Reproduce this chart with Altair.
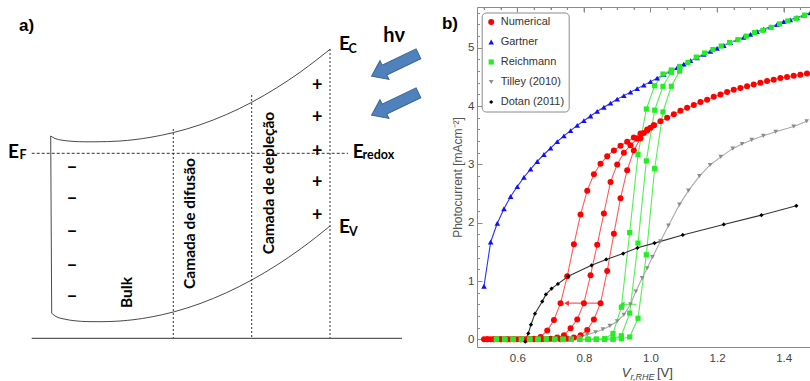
import altair as alt
import pandas as pd

# ============ panel a) : band diagram (reference pixel coordinates) ============
band_top_x = [50.7, 55, 62, 72, 85, 95, 120, 150, 173.3, 200, 226.7, 251.7, 276.7, 300, 316.7, 330]
band_top_y = [136, 138.5, 140.2, 141.3, 141.8, 141.8, 141.0, 137.4, 132.6, 124.8, 114.4, 102.3, 87.8, 72.3, 59.8, 49.3]
band_bot_x = [51.7, 56, 64, 75, 88, 100, 120, 150, 173.3, 200, 226.7, 251.7, 276.7, 300, 316.7, 330]
band_bot_y = [313.3, 316.5, 319, 320.8, 321.6, 321.7, 321.0, 317.2, 312.0, 303.6, 292.6, 280.0, 265.2, 249.3, 236.7, 226]
band_left_x = [50.7, 51.2, 51.7]
band_left_y = [136, 225, 313.3]

layer_x = [173.3, 251.7, 330]
layer_top = [129, 95, 49]
layer_bottom = [338, 338, 338]

fermi_x = [31.7, 348]
fermi_y = [153.3, 153.3]
base_x = [31.7, 402]
base_y = [338.3, 338.3]

minus_x = [72, 72, 72, 72, 72]
minus_y = [166.7, 198.3, 230.7, 265, 296]
plus_x = [317.3, 317.3, 317.3, 317.3, 317.3]
plus_y = [86, 118.3, 151.7, 182.7, 216]

e_x = [8, 339, 339, 352.7]
e_y = [158, 50, 233, 157.5]
sub_text = ["F", "C", "V", "redox"]
sub_x = [19.5, 348.5, 349, 362.5]
sub_y = [159, 53, 236, 159]

region_text = ["Bulk", "Camada de difusão", "Camada de depleção"]
region_x = [127, 190, 268.5]
region_y = [292.5, 223.5, 183]

photon_x = [395, 395]
photon_y = [65, 104]

panel_text = ["a)", "b)"]
panel_x = [26.5, 450]
panel_y = [31, 29]

# ============ panel b) : photocurrent curves ============
gartner_v = [0.50, 0.52, 0.54, 0.56, 0.58, 0.60, 0.62, 0.64, 0.66, 0.68, 0.70, 0.72, 0.74, 0.76, 0.78,
             0.80, 0.82, 0.84, 0.86, 0.88, 0.90, 0.92, 0.94, 0.96, 0.98, 1.00, 1.02, 1.04, 1.06, 1.08,
             1.10, 1.12, 1.14, 1.16, 1.18, 1.20, 1.22, 1.24, 1.26, 1.28, 1.30, 1.32, 1.34, 1.36, 1.38,
             1.40, 1.42, 1.44, 1.46, 1.48, 1.50]
gartner_i = [0.91, 1.67, 1.99, 2.24, 2.45, 2.62, 2.78, 2.92, 3.05, 3.17, 3.28, 3.39, 3.49, 3.58, 3.67,
             3.75, 3.83, 3.91, 3.98, 4.05, 4.12, 4.18, 4.24, 4.30, 4.36, 4.42, 4.48, 4.54, 4.60, 4.66,
             4.72, 4.78, 4.83, 4.89, 4.94, 4.99, 5.04, 5.09, 5.14, 5.18, 5.23, 5.28, 5.32, 5.36, 5.40,
             5.45, 5.48, 5.52, 5.56, 5.60, 5.64]

num1_v = [0.51, 0.53, 0.55, 0.57, 0.59, 0.61, 0.63, 0.65, 0.67, 0.69, 0.71, 0.73, 0.75, 0.77, 0.79,
          0.81, 0.83, 0.85, 0.87, 0.89, 0.91, 0.93, 0.95, 0.97, 0.99, 1.01, 1.03, 1.05, 1.07, 1.09,
          1.11, 1.13, 1.15, 1.17, 1.19, 1.21, 1.23, 1.25, 1.27, 1.29, 1.31, 1.33, 1.35, 1.37, 1.39,
          1.41, 1.43, 1.45, 1.47, 1.49]
num1_i = [0, 0, 0, 0, 0, 0, 0, 0.01, 0.04, 0.15, 0.33, 0.62, 1.08, 1.63, 2.14,
          2.55, 2.83, 3.01, 3.14, 3.24, 3.32, 3.39, 3.46, 3.53, 3.60, 3.67, 3.74, 3.80, 3.86, 3.92,
          3.97, 4.02, 4.07, 4.11, 4.16, 4.20, 4.24, 4.28, 4.31, 4.34, 4.37, 4.40, 4.43, 4.45, 4.48,
          4.50, 4.52, 4.54, 4.56, 4.58]
num2_v = [0.50, 0.52, 0.54, 0.56, 0.58, 0.60, 0.62, 0.64, 0.66, 0.68, 0.70, 0.72, 0.74, 0.76, 0.78,
          0.80, 0.82, 0.84, 0.86, 0.88, 0.90, 0.92, 0.94, 0.96, 0.98, 1.00]
num2_i = [0, 0, 0, 0, 0, 0, 0, 0, 0, 0, 0.01, 0.03, 0.07, 0.19, 0.34,
          0.62, 1.10, 1.62, 2.16, 2.70, 3.00, 3.20, 3.33, 3.44, 3.54, 3.63]
num3_v = [0.51, 0.53, 0.55, 0.57, 0.59, 0.61, 0.63, 0.65, 0.67, 0.69, 0.71, 0.73, 0.75, 0.77, 0.79,
          0.81, 0.83, 0.85, 0.87, 0.89, 0.91, 0.93, 0.95, 0.97, 0.99, 1.01]
num3_i = [0, 0, 0, 0, 0, 0, 0, 0, 0, 0, 0, 0, 0.01, 0.03, 0.07,
          0.16, 0.34, 0.62, 1.17, 1.81, 2.42, 2.90, 3.24, 3.45, 3.58, 3.67]

rei1_v = [0.5375, 0.5625, 0.5875, 0.6125, 0.6375, 0.6625, 0.6875, 0.7125, 0.7375, 0.7625, 0.7875,
          0.8125, 0.8375, 0.8625, 0.8875, 0.9125, 0.9375, 0.9625, 0.9875, 1.0125, 1.0375, 1.0625]
rei1_i = [0, 0, 0, 0, 0, 0, 0, 0, 0, 0, 0,
          0, 0, 0.01, 0.10, 0.55, 1.83, 3.17, 3.95, 4.35, 4.55, 4.62]
rei2_v = [0.5375, 0.5625, 0.5875, 0.6125, 0.6375, 0.6625, 0.6875, 0.7125, 0.7375, 0.7625, 0.7875,
          0.8125, 0.8375, 0.8625, 0.8875, 0.9125, 0.9375, 0.9625, 0.9875, 1.0125, 1.0375, 1.0625, 1.0875]
rei2_i = [0, 0, 0, 0, 0, 0, 0, 0, 0, 0, 0,
          0, 0, 0, 0.01, 0.06, 0.45, 1.65, 3.06, 3.93, 4.34, 4.58, 4.68]
rei3_v = [0.5375, 0.5625, 0.5875, 0.6125, 0.6375, 0.6625, 0.6875, 0.7125, 0.7375, 0.7625, 0.7875,
          0.8125, 0.8375, 0.8625, 0.8875, 0.9125, 0.9375, 0.9625, 0.9875, 1.0125, 1.0375, 1.0625, 1.0875,
          1.1125, 1.1375, 1.1625, 1.1875, 1.2125, 1.2375, 1.2625, 1.2875, 1.3125, 1.3375, 1.3625,
          1.3875, 1.4125, 1.4375, 1.4625, 1.4875]
rei3_i = [0, 0, 0, 0, 0, 0, 0, 0, 0, 0, 0,
          0, 0, 0, 0, 0.01, 0.04, 0.36, 1.45, 2.93, 3.90, 4.34, 4.60,
          4.75, 4.84, 4.91, 4.97, 5.03, 5.09, 5.14, 5.20, 5.26, 5.30, 5.35,
          5.41, 5.46, 5.50, 5.56, 5.60]

tilley_v = [0.76, 0.785, 0.81, 0.835, 0.857, 0.878, 0.90, 0.92, 0.94, 0.956, 0.975, 0.99, 1.006,
            1.03, 1.054, 1.087, 1.114, 1.147, 1.179, 1.211, 1.247, 1.275, 1.304, 1.339, 1.376,
            1.43, 1.469]
tilley_i = [0.01, 0.04, 0.08, 0.12, 0.17, 0.23, 0.31, 0.42, 0.60, 0.82, 1.05, 1.22, 1.41,
            1.68, 1.95, 2.31, 2.55, 2.80, 2.99, 3.13, 3.27, 3.35, 3.42, 3.49, 3.56,
            3.65, 3.74]

dotan_v = [0.624, 0.633, 0.641, 0.653, 0.675, 0.686, 0.703, 0.722, 0.753, 0.823, 0.867, 0.918,
           0.961, 1.012, 1.097, 1.22, 1.333, 1.438]
dotan_i = [-0.04, 0.10, 0.25, 0.44, 0.65, 0.77, 0.87, 0.95, 1.08, 1.27, 1.37, 1.47,
           1.57, 1.65, 1.79, 1.97, 2.13, 2.29]

arrow_red_v = [0.851, 0.748]
arrow_red_i = [0.62, 0.62]
arrow_green_v = [0.958, 0.915]
arrow_green_i = [0.60, 0.60]

series_names = ["Numerical", "Gartner", "Reichmann", "Tilley (2010)", "Dotan (2011)"]
marker_colors = ["#ff0000", "#1010ff", "#22ee22", "#8c8c8c", "#000000"]
line_colors = ["#ff5a5a", "#3030ff", "#55ee55", "#aaaaaa", "#333333"]
marker_shapes = ["circle", "triangle-up", "square", "triangle-down", "diamond"]
marker_sizes = [36, 18, 34, 16, 20]

x_ticks = [0.5, 0.55, 0.6, 0.65, 0.7, 0.75, 0.8, 0.85, 0.9, 0.95, 1.0, 1.05, 1.1, 1.15, 1.2,
           1.25, 1.3, 1.35, 1.4, 1.45]
x_major = [0.6, 0.8, 1.0, 1.2, 1.4]
y_ticks = [0, 0.2, 0.4, 0.6, 0.8, 1, 1.2, 1.4, 1.6, 1.8, 2, 2.2, 2.4, 2.6, 2.8, 3, 3.2, 3.4,
           3.6, 3.8, 4, 4.2, 4.4, 4.6, 4.8, 5, 5.2, 5.4, 5.6]

# ---------------- build tables ----------------
curves = [
    ("Numerical", "n1", num1_v, num1_i),
    ("Numerical", "n2", num2_v, num2_i),
    ("Numerical", "n3", num3_v, num3_i),
    ("Gartner", "g", gartner_v, gartner_i),
    ("Reichmann", "r1", rei1_v, rei1_i),
    ("Reichmann", "r2", rei2_v, rei2_i),
    ("Reichmann", "r3", rei3_v, rei3_i),
    ("Tilley (2010)", "t", tilley_v, tilley_i),
    ("Dotan (2011)", "d", dotan_v, dotan_i),
]
rows = []
for s, c, vs, iis in curves:
    for k, (v, i) in enumerate(zip(vs, iis)):
        rows.append({"series": s, "line_series": s, "curve": c, "idx": k, "v": v, "i": i})
df_b = pd.DataFrame(rows)

SX = alt.Scale(domain=[0, 810], range=[-477, 333], nice=False, zero=False)
SY = alt.Scale(domain=[0, 381], range=[-7, 374], nice=False, zero=False)


def ax(field):
    return alt.X(field, type="quantitative", scale=SX, axis=None)


def ay(field):
    return alt.Y(field, type="quantitative", scale=SY, axis=None)


band_rows = []
for piece, xs, ys in [("top", band_top_x, band_top_y), ("left", band_left_x, band_left_y),
                      ("bot", band_bot_x, band_bot_y)]:
    for k, (x, y) in enumerate(zip(xs, ys)):
        band_rows.append({"piece": piece, "k": k, "x": x, "y": y})
band = alt.Chart(pd.DataFrame(band_rows)).mark_line(
    color="#4a4a4a", strokeWidth=1, interpolate="monotone"
).encode(x=ax("x"), y=ay("y"), detail="piece:N", order="k:Q")

layers_df = pd.DataFrame({"x": layer_x, "y": layer_top, "y2": layer_bottom})
vlines = alt.Chart(layers_df).mark_rule(color="#333333", strokeWidth=1, strokeDash=[2, 2]).encode(
    x=ax("x"), y=ay("y"), y2="y2:Q")

fermi = alt.Chart(pd.DataFrame({"x": [fermi_x[0]], "x2": [fermi_x[1]], "y": [fermi_y[0]]})).mark_rule(
    color="#333333", strokeWidth=1, strokeDash=[3, 2]).encode(x=ax("x"), x2="x2:Q", y=ay("y"))

base = alt.Chart(pd.DataFrame({"x": [base_x[0]], "x2": [base_x[1]], "y": [base_y[0]]})).mark_rule(
    color="#333333", strokeWidth=1).encode(x=ax("x"), x2="x2:Q", y=ay("y"))

minus = alt.Chart(pd.DataFrame({"x": minus_x, "y": minus_y, "t": ["–"] * len(minus_x)})).mark_text(
    font="Lato", fontWeight="bold", fontSize=19, align="center", baseline="middle", color="#000"
).encode(x=ax("x"), y=ay("y"), text="t:N")

plus = alt.Chart(pd.DataFrame({"x": plus_x, "y": plus_y, "t": ["+"] * len(plus_x)})).mark_text(
    font="Lato", fontWeight="bold", fontSize=18, align="center", baseline="middle", color="#000"
).encode(x=ax("x"), y=ay("y"), text="t:N")

e_big = alt.Chart(pd.DataFrame({"x": e_x, "y": e_y, "t": ["E"] * len(e_x)})).mark_text(
    font="Lato", fontWeight="bold", fontSize=19, align="left", baseline="alphabetic", color="#000"
).encode(x=ax("x"), y=ay("y"), text="t:N")

e_sub = alt.Chart(pd.DataFrame({"x": sub_x, "y": sub_y, "t": sub_text})).mark_text(
    font="Lato", fontWeight="bold", fontSize=12.5, align="left", baseline="alphabetic", color="#000"
).encode(x=ax("x"), y=ay("y"), text="t:N")

hv = alt.Chart(pd.DataFrame({"x": [394], "y": [42], "t": ["hν"]})).mark_text(
    font="Lato", fontWeight="bold", fontSize=20, align="center", baseline="alphabetic", color="#000"
).encode(x=ax("x"), y=ay("y"), text="t:N")

regions = alt.Chart(pd.DataFrame({"x": region_x, "y": region_y, "t": region_text})).mark_text(
    font="Lato", fontWeight="bold", fontSize=15.5, angle=270, align="center", baseline="middle",
    color="#000"
).encode(x=ax("x"), y=ay("y"), text="t:N")

ARROW = "M -1 0 L -0.45 -0.4 L -0.45 -0.21 L 1 -0.21 L 1 0.21 L -0.45 0.21 L -0.45 0.4 Z"
photons = alt.Chart(pd.DataFrame({"x": photon_x, "y": photon_y})).mark_point(
    shape=ARROW, size=2700, angle=334.5, filled=True, fill="#4f81bd", stroke="#3a6593",
    strokeWidth=1, opacity=1
).encode(x=ax("x"), y=ay("y"))

panels = alt.Chart(pd.DataFrame({"x": panel_x, "y": panel_y, "t": panel_text})).mark_text(
    font="Liberation Sans", fontWeight="bold", fontSize=17, align="center", baseline="alphabetic",
    color="#000"
).encode(x=ax("x"), y=ay("y"), text="t:N")

xt_main = alt.Chart(pd.DataFrame({"x": [621.7], "y": [377], "t": ["V"]})).mark_text(
    font="Liberation Sans", fontStyle="italic", fontSize=13, align="left", baseline="alphabetic",
    color="#444"
).encode(x=ax("x"), y=ay("y"), text="t:N")
xt_sub = alt.Chart(pd.DataFrame({"x": [630.5], "y": [379.5], "t": ["r,RHE"]})).mark_text(
    font="Liberation Sans", fontStyle="italic", fontSize=9, align="left", baseline="alphabetic",
    color="#444"
).encode(x=ax("x"), y=ay("y"), text="t:N")
xt_unit = alt.Chart(pd.DataFrame({"x": [657], "y": [377], "t": ["[V]"]})).mark_text(
    font="Liberation Sans", fontSize=13, align="left", baseline="alphabetic", color="#444"
).encode(x=ax("x"), y=ay("y"), text="t:N")

panel_a = alt.layer(band, vlines, fermi, base, minus, plus, e_big, e_sub, hv, regions, photons,
                    panels, xt_main, xt_sub, xt_unit)

# ---------------- panel b ----------------
XS = alt.Scale(domain=[0.479, 1.479], nice=False, zero=False)
YS = alt.Scale(domain=[-0.132, 5.70], nice=False, zero=False)

major_x = "abs(datum.value*5 - round(datum.value*5)) < 0.001"
major_y = "abs(datum.value - round(datum.value)) < 0.001"

x_axis = alt.Axis(
    orient="bottom", values=x_ticks, title=None, ticks=False, domain=False,
    labelExpr=f"{major_x} ? format(datum.value, '.1f') : ''",
    grid=True, gridColor="#8a8a8a", gridWidth=1,
    gridDash={"condition": {"test": major_x, "value": [5, 2000]}, "value": [2.5, 2000]},
    labelFont="Liberation Sans", labelFontSize=11.5, labelColor="#444", labelPadding=5,
    labelOverlap=False, labelFlush=False, labelBound=False,
)
y_axis = alt.Axis(
    orient="left", values=y_ticks, title="Photocurrent [mAcm⁻²]", ticks=False, domain=False,
    labelExpr=f"{major_y} ? format(datum.value, 'd') : ''",
    grid=True, gridColor="#8a8a8a", gridWidth=1,
    gridDash={"condition": {"test": major_y, "value": [5, 2000]}, "value": [2.5, 2000]},
    labelFont="Liberation Sans", labelFontSize=11.5, labelColor="#444", labelPadding=3,
    labelOverlap=False, labelFlush=False, labelBound=False,
    titleFont="Liberation Sans", titleFontSize=12, titleFontWeight="normal", titleColor="#555",
    titlePadding=3,
)


def bx(field="v"):
    return alt.X(field, type="quantitative", scale=XS, axis=x_axis)


def by(field="i"):
    return alt.Y(field, type="quantitative", scale=YS, axis=y_axis)


# the line colours use their own (reversed-order) domain so that their hidden legend
# is never merged with the visible marker legend
lines = alt.Chart(df_b).mark_line(strokeWidth=1.1, clip=True).encode(
    x=bx(), y=by(),
    stroke=alt.Stroke("line_series:N",
                      scale=alt.Scale(domain=series_names[::-1], range=line_colors[::-1]),
                      legend=None),
    detail="curve:N",
    order="idx:Q",
)

top_major = alt.Chart(pd.DataFrame({"v": x_major})).mark_tick(
    color="#8a8a8a", size=10, thickness=1, clip=True
).encode(x=bx(), y=alt.value(0))
top_minor = alt.Chart(pd.DataFrame({"v": [t for t in x_ticks if t not in x_major]})).mark_tick(
    color="#8a8a8a", size=5, thickness=1, clip=True
).encode(x=bx(), y=alt.value(0))

red_arrow = alt.Chart(pd.DataFrame({"v": arrow_red_v, "i": arrow_red_i})).mark_line(
    strokeWidth=1.1, clip=True, color="#ff5a5a"
).encode(x=bx(), y=by())
green_arrow = alt.Chart(pd.DataFrame({"v": arrow_green_v, "i": arrow_green_i})).mark_line(
    strokeWidth=1.1, clip=True, color="#55ee55"
).encode(x=bx(), y=by())
red_head = alt.Chart(pd.DataFrame({"v": arrow_red_v[1:], "i": arrow_red_i[1:]})).mark_point(
    shape="triangle-left", size=30, filled=True, opacity=1, clip=True, color="#ff3030"
).encode(x=bx(), y=by())
green_head = alt.Chart(pd.DataFrame({"v": arrow_green_v[1:], "i": arrow_green_i[1:]})).mark_point(
    shape="triangle-left", size=30, filled=True, opacity=1, clip=True, color="#33dd33"
).encode(x=bx(), y=by())

points = alt.Chart(df_b).mark_point(filled=True, opacity=1, strokeWidth=0, clip=True).encode(
    x=bx(), y=by(),
    fill=alt.Fill("series:N", scale=alt.Scale(domain=series_names, range=marker_colors),
                  legend=alt.Legend(title=None, orient="none", legendX=4.7, legendY=5.5,
                                    labelFont="Liberation Sans", labelFontSize=11,
                                    labelColor="#333", strokeColor="#8a8a8a", fillColor="white",
                                    padding=4, cornerRadius=4, rowPadding=8, labelOffset=4,
                                    symbolStrokeWidth=0)),
    shape=alt.Shape("series:N", scale=alt.Scale(domain=series_names, range=marker_shapes)),
    size=alt.Size("series:N", scale=alt.Scale(domain=series_names, range=marker_sizes)),
)

panel_b = alt.layer(lines, top_major, top_minor, red_arrow, green_arrow, red_head, green_head, points)

chart = alt.layer(panel_a, panel_b).resolve_scale(
    x="independent", y="independent"
).properties(
    width=333, height=340,
    autosize=alt.AutoSizeParams(type="none"),
    padding={"left": 477, "top": 7, "right": 0, "bottom": 34},
    background="white",
).configure_view(stroke="#8a8a8a", strokeWidth=1)

chart.save("out.html", embed_options={"renderer": "svg", "actions": False})
